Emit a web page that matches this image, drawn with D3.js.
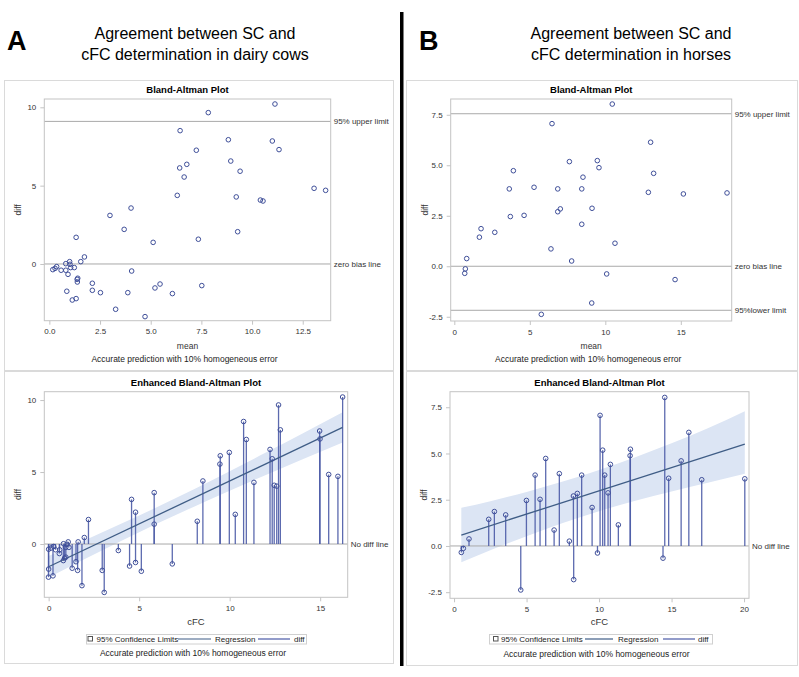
<!DOCTYPE html>
<html><head><meta charset="utf-8">
<script src="https://cdn.jsdelivr.net/npm/d3@7"></script>
<style>body{margin:0;background:#fff}svg{display:block;font-family:"Liberation Sans",Arial,sans-serif}</style>
</head><body><script>
// ---------------- DATA ----------------
// Panel A: dairy cows
const cowsMean=[0.17,0.28,0.36,0.58,0.81,0.81,0.92,1.00,1.02,1.05,1.23,1.32,1.55,1.73,1.37,1.40,1.38,0.86,1.13,1.32,2.12,2.12,2.52,2.99,3.27,3.69,3.87,4.03,4.06,4.72,5.12,5.21,5.46,6.07,6.31,6.43,6.45,6.65,6.78,7.25,7.35,7.52,7.84,8.83,8.95,9.22,9.29,9.41,10.41,10.54,11.00,11.13,11.33,13.06,13.63];
const cowsDiff=[-0.36,-0.28,-0.17,-0.40,0.02,-0.40,-0.66,0.15,-0.02,-0.23,-0.23,1.70,0.15,0.45,-0.98,-0.91,-1.15,-1.74,-2.30,-2.21,-1.23,-1.68,-1.83,3.10,-2.89,2.21,-1.83,3.57,-0.45,-3.36,1.38,-1.53,-1.28,-1.89,4.38,6.13,8.51,5.55,6.36,7.26,1.58,-1.38,9.66,7.93,6.57,4.28,2.06,5.92,4.08,4.02,7.85,10.21,7.30,4.83,4.70];
const cowsCFC=[0.00,0.14,0.28,0.38,0.82,0.61,0.59,1.08,1.01,0.94,1.12,2.20,1.63,1.97,0.88,0.95,0.81,0.00,-0.01,0.24,1.51,1.30,1.60,4.58,1.84,4.80,2.96,5.83,3.85,3.07,5.83,4.47,4.80,5.12,8.52,9.48,10.77,9.46,9.98,10.92,8.21,6.83,12.70,12.80,12.23,11.34,10.31,12.35,12.46,12.60,14.97,16.24,14.99,15.47,15.98];
const cowsRefValues=[9.1,0];
const cowsRefLabels=["95% upper limit","zero bias line"];
const cowsRegX=[0,16.24];
const cowsRegY=[-1.58,8.10];
const cowsBandX=[0,2,4,6,8,10,12,14,16.24];
const cowsBandLo=[-2.33,-1.04,0.21,1.42,2.58,3.70,4.80,5.87,7.05];
const cowsBandHi=[-0.83,0.27,1.40,2.57,3.79,5.06,6.35,7.66,9.15];

// Panel B: horses
const horseMean=[0.69,0.73,0.82,1.66,1.77,2.68,3.64,3.71,3.91,4.62,5.28,6.47,6.40,6.85,6.85,7.02,7.62,7.77,8.44,8.44,8.52,9.12,9.47,9.58,10.46,13.00,13.20,12.85,15.17,18.06,10.64,10.09,14.62,9.10,5.76];
const horseDiff=[-0.35,-0.13,0.38,1.44,1.86,1.68,3.83,2.46,4.73,2.52,3.91,7.06,0.86,3.83,2.70,2.84,5.18,0.26,3.83,2.08,4.41,2.87,5.23,4.88,8.03,6.14,4.60,3.66,3.58,3.63,1.14,-0.38,-0.66,-1.82,-2.38];
const horseCFC=[0.50,0.64,1.03,2.39,2.78,3.56,5.59,4.99,6.32,5.93,7.26,10.07,6.90,8.80,8.23,8.50,10.25,7.95,10.39,9.52,10.78,10.62,12.16,12.14,14.53,16.19,15.66,14.80,17.08,20.05,11.33,9.89,14.41,8.25,4.60];
const horseRefValues=[7.55,0,-2.18];
const horseRefLabels=["95% upper limit","zero bias line","95%lower limit"];
const horseRegX=[0.5,20.05];
const horseRegY=[0.59,5.51];
const horseBandX=[0.5,2.5,5,7.5,10,12.5,15,17.5,20.05];
const horseBandLo=[-0.88,-0.23,0.53,1.24,1.88,2.45,2.95,3.42,3.90];
const horseBandHi=[2.06,2.42,2.92,3.48,4.10,4.80,5.55,6.36,7.28];

// tick values / labels
const cowsTopXTicks=[0,2.5,5,7.5,10,12.5], cowsTopXLabels=["0.0","2.5","5.0","7.5","10.0","12.5"];
const cowsTopYTicks=[0,5,10], cowsTopYLabels=["0","5","10"];
const cowsBotXTicks=[0,5,10,15], cowsBotXLabels=["0","5","10","15"];
const cowsBotYTicks=[0,5,10], cowsBotYLabels=["0","5","10"];
const horseTopXTicks=[0,5,10,15], horseTopXLabels=["0","5","10","15"];
const horseTopYTicks=[-2.5,0,2.5,5,7.5], horseTopYLabels=["-2.5","0.0","2.5","5.0","7.5"];
const horseBotXTicks=[0,5,10,15,20], horseBotXLabels=["0","5","10","15","20"];
const horseBotYTicks=[-2.5,0,2.5,5,7.5], horseBotYLabels=["-2.5","0.0","2.5","5.0","7.5"];

const footnote="Accurate prediction with 10% homogeneous error";
const legendLabels=["95% Confidence Limits","Regression","diff"];

// ---------------- STYLE ----------------
const FRAME="#c4c4c4", REF="#a9a9a9", PT="#3f4f99", NEEDLE="#4a5aa6", REG="#3f5d86", BAND="#dce5f4", TXT="#333";

const svg=d3.select("body").append("svg").attr("width",799).attr("height",677);

// outer boxes
[[4,80,389,290],[4,371,389,292],[406,80,391,290],[406,371,391,294]].forEach(b=>{
  svg.append("rect").attr("x",b[0]+0.5).attr("y",b[1]+0.5).attr("width",b[2]).attr("height",b[3])
    .attr("fill","none").attr("stroke","#dadada");
});
// divider
svg.append("rect").attr("x",400).attr("y",12).attr("width",3.5).attr("height",654).attr("fill","#000");

// headings
function heading(letter,lx,cx,l1,l2){
  svg.append("text").attr("x",lx).attr("y",50).attr("font-size",27).attr("font-weight","bold").attr("fill","#000").text(letter);
  svg.append("text").attr("x",cx).attr("y",39).attr("text-anchor","middle").attr("font-size",16).attr("fill","#000").text(l1);
  svg.append("text").attr("x",cx).attr("y",60).attr("text-anchor","middle").attr("font-size",16).attr("fill","#000").text(l2);
}
heading("A",7,195,"Agreement between SC and","cFC determination in dairy cows");
heading("B",419,631,"Agreement between SC and","cFC determination in horses");

function axesFrame(c){
  const x=d3.scaleLinear().domain(c.xDom).range([c.x0,c.x1]);
  const y=d3.scaleLinear().domain(c.yDom).range([c.y1,c.y0]);
  const gx=svg.append("g").attr("transform",`translate(0,${c.y1})`)
    .call(d3.axisBottom(x).tickValues(c.xTicks).tickFormat((d,i)=>c.xLabels[i]).tickSize(4).tickPadding(4));
  const gy=svg.append("g").attr("transform",`translate(${c.x0},0)`)
    .call(d3.axisLeft(y).tickValues(c.yTicks).tickFormat((d,i)=>c.yLabels[i]).tickSize(4).tickPadding(4));
  [gx,gy].forEach(g=>{
    g.select(".domain").remove();
    g.selectAll("line").attr("stroke",FRAME);
    g.selectAll("text").attr("font-size",8).attr("fill",TXT).attr("font-family","Liberation Sans, Arial, sans-serif");
  });
  svg.append("text").attr("x",(c.x0+c.x1)/2).attr("y",c.y0-6).attr("text-anchor","middle")
    .attr("font-size",9.5).attr("font-weight","bold").attr("fill","#000").text(c.title);
  svg.append("text").attr("transform",`translate(${c.x0-23},${(c.y0+c.y1)/2}) rotate(-90)`)
    .attr("text-anchor","middle").attr("font-size",8.5).attr("fill",TXT).text("diff");
  svg.append("text").attr("x",(c.x0+c.x1)/2).attr("y",c.xLabY).attr("text-anchor","middle")
    .attr("font-size",c.xLabSize).attr("fill",TXT).text(c.xLab);
  svg.append("text").attr("x",(c.x0+c.x1)/2 - 3).attr("y",c.footY).attr("text-anchor","middle")
    .attr("font-size",8.5).attr("fill","#222").text(footnote);
  return {x,y};
}
function drawFrame(c){
  svg.append("rect").attr("x",c.x0).attr("y",c.y0).attr("width",c.x1-c.x0).attr("height",c.y1-c.y0)
    .attr("fill","none").attr("stroke",FRAME);
}

function topPlot(c,mean,diff,refV,refL){
  const {x,y}=axesFrame(c);
  refV.forEach((v,i)=>{
    svg.append("line").attr("x1",c.x0).attr("x2",c.x1).attr("y1",y(v)).attr("y2",y(v)).attr("stroke",REF);
    svg.append("text").attr("x",c.x1+3).attr("y",y(v)+3).attr("font-size",8).attr("fill",TXT).text(refL[i]);
  });
  drawFrame(c);
  svg.append("g").selectAll("circle").data(mean).join("circle")
    .attr("cx",d=>x(d)).attr("cy",(d,i)=>y(diff[i])).attr("r",2.3)
    .attr("fill","none").attr("stroke",PT).attr("stroke-width",1);
}

function bottomPlot(c,cfc,diff,regX,regY,bX,bLo,bHi,leg){
  const {x,y}=axesFrame(c);
  const area=d3.area().x(d=>x(d)).y0((d,i)=>y(bLo[i])).y1((d,i)=>y(bHi[i])).curve(d3.curveMonotoneX);
  svg.append("path").attr("d",area(bX)).attr("fill",BAND);
  svg.append("line").attr("x1",c.x0).attr("x2",c.x1).attr("y1",y(0)).attr("y2",y(0)).attr("stroke",REF);
  svg.append("text").attr("x",c.x1+3).attr("y",y(0)+3).attr("font-size",8).attr("fill",TXT).text("No diff line");
  svg.append("g").selectAll("line").data(cfc).join("line")
    .attr("x1",d=>x(d)).attr("x2",d=>x(d)).attr("y1",y(0)).attr("y2",(d,i)=>y(diff[i]))
    .attr("stroke",NEEDLE).attr("stroke-width",1.3).attr("stroke-opacity",0.9);
  svg.append("line").attr("x1",x(regX[0])).attr("x2",x(regX[1])).attr("y1",y(regY[0])).attr("y2",y(regY[1]))
    .attr("stroke",REG).attr("stroke-width",1.3);
  drawFrame(c);
  svg.append("g").selectAll("circle").data(cfc).join("circle")
    .attr("cx",d=>x(d)).attr("cy",(d,i)=>y(diff[i])).attr("r",2.3)
    .attr("fill","none").attr("stroke",PT).attr("stroke-width",1);
  // legend
  const L=leg;
  svg.append("rect").attr("x",L.x0+0.5).attr("y",634.5).attr("width",L.x1-L.x0).attr("height",9.5)
    .attr("fill","#fff").attr("stroke","#d0d0d0");
  svg.append("rect").attr("x",L.sq+0.5).attr("y",636.5).attr("width",4.5).attr("height",4.5)
    .attr("fill","#fff").attr("stroke","#555");
  svg.append("text").attr("x",L.t1).attr("y",641.8).attr("font-size",8).attr("fill","#222").text(legendLabels[0]);
  svg.append("line").attr("x1",L.l1[0]).attr("x2",L.l1[1]).attr("y1",639).attr("y2",639).attr("stroke",REG).attr("stroke-width",1.2);
  svg.append("text").attr("x",L.t2).attr("y",641.8).attr("font-size",8).attr("fill","#222").text(legendLabels[1]);
  svg.append("line").attr("x1",L.l2[0]).attr("x2",L.l2[1]).attr("y1",639).attr("y2",639).attr("stroke",NEEDLE).attr("stroke-width",1.2);
  svg.append("text").attr("x",L.t3).attr("y",641.8).attr("font-size",8).attr("fill","#222").text(legendLabels[2]);
}

// Panel A
topPlot({x0:44.3,x1:330.7,y0:99,y1:320.7,xDom:[-0.25,13.88],yDom:[-3.62,10.53],
  xTicks:cowsTopXTicks,xLabels:cowsTopXLabels,yTicks:cowsTopYTicks,yLabels:cowsTopYLabels,
  title:"Bland-Altman Plot",xLab:"mean",xLabY:349,xLabSize:8.5,footY:362},
  cowsMean,cowsDiff,cowsRefValues,cowsRefLabels);
bottomPlot({x0:44.3,x1:347.7,y0:391.7,y1:597.3,xDom:[-0.24,16.52],yDom:[-3.70,10.58],
  xTicks:cowsBotXTicks,xLabels:cowsBotXLabels,yTicks:cowsBotYTicks,yLabels:cowsBotYLabels,
  title:"Enhanced Bland-Altman Plot",xLab:"cFC",xLabY:625,xLabSize:9.5,footY:656},
  cowsCFC,cowsDiff,cowsRegX,cowsRegY,cowsBandX,cowsBandLo,cowsBandHi,
  {x0:86,x1:306,sq:87.5,t1:96.5,l1:[178,211],t2:215,l2:[258,290],t3:294});

// Panel B
topPlot({x0:450.7,x1:731.7,y0:99,y1:321,xDom:[-0.24,18.37],yDom:[-2.71,8.28],
  xTicks:horseTopXTicks,xLabels:horseTopXLabels,yTicks:horseTopYTicks,yLabels:horseTopYLabels,
  title:"Bland-Altman Plot",xLab:"mean",xLabY:349,xLabSize:8.5,footY:362},
  horseMean,horseDiff,horseRefValues,horseRefLabels);
bottomPlot({x0:450,x1:749,y0:391.7,y1:598.3,xDom:[-0.28,20.34],yDom:[-2.83,8.34],
  xTicks:horseBotXTicks,xLabels:horseBotXLabels,yTicks:horseBotYTicks,yLabels:horseBotYLabels,
  title:"Enhanced Bland-Altman Plot",xLab:"cFC",xLabY:625,xLabSize:9.5,footY:656.5},
  horseCFC,horseDiff,horseRegX,horseRegY,horseBandX,horseBandLo,horseBandHi,
  {x0:489,x1:712,sq:493,t1:501,l1:[585,613],t2:618,l2:[663,695],t3:698});
</script></body></html>
